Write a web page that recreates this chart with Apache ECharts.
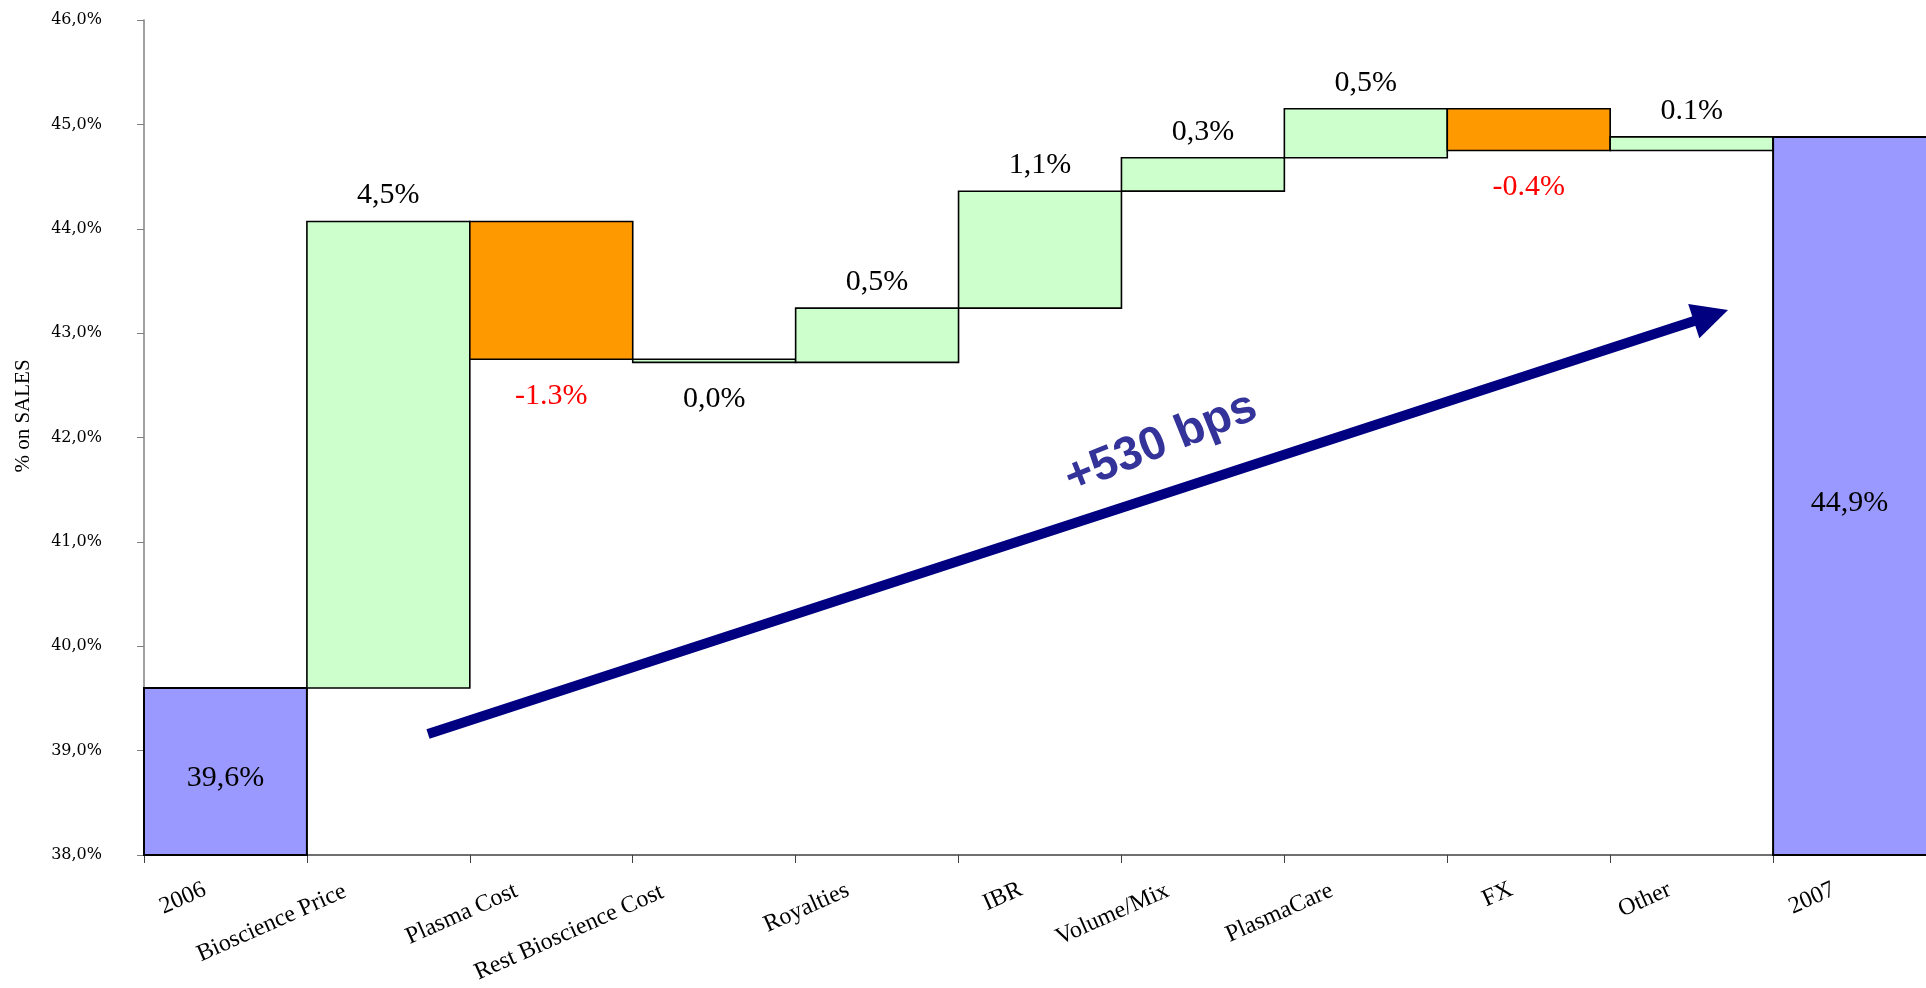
<!DOCTYPE html>
<html>
<head>
<meta charset="utf-8">
<script src="https://cdn.jsdelivr.net/npm/echarts@6/dist/echarts.min.js"></script>
<style>
html,body{margin:0;padding:0;background:#ffffff;}
#chart{width:1926px;height:988px;}
</style>
</head>
<body>
<div id="chart"></div>
<script>
// ---- data ----
const categories = ['2006','Bioscience Price','Plasma Cost','Rest Bioscience Cost','Royalties','IBR','Volume/Mix','PlasmaCare','FX','Other','2007'];
const startValue = 39.6;   // 2006 margin
const deltas = [4.47, -1.32, -0.03, 0.52, 1.12, 0.32, 0.47, -0.40, 0.13]; // bridge steps
const endValue = 44.88;    // 2007 margin
const kinds = ['total','up','down','up','up','up','up','up','down','up','total'];
const valueLabels = ['39,6%','4,5%','-1.3%','0,0%','0,5%','1,1%','0,3%','0,5%','-0.4%','0.1%','44,9%'];
const yMin = 38, yMax = 46, yStep = 1;

// ---- build waterfall rows: [index, low, high, direction] ----
const rows = [];
rows.push([0, yMin, startValue, 1]);
let level = startValue;
deltas.forEach(function (d, k) {
  const next = level + d;
  rows.push([k + 1, Math.min(level, next), Math.max(level, next), d >= 0 ? 1 : -1]);
  level = next;
});
rows.push([categories.length - 1, yMin, endValue, 1]);

const fills = { total: '#9999FF', up: '#CCFFCC', down: '#FF9900' };

function renderItem(params, api) {
  const i = api.value(0);
  const lo = api.value(1), hi = api.value(2), dir = api.value(3);
  const pTop = api.coord([i, hi]);
  const pBot = api.coord([i, lo]);
  const w = api.size([1, 0])[0];
  const x0 = pTop[0] - w / 2, x1 = pTop[0] + w / 2;
  const kind = kinds[i];
  const children = [{
    type: 'rect',
    shape: { x: x0, y: pTop[1], width: w, height: Math.max(pBot[1] - pTop[1], 0.5) },
    style: { fill: fills[kind], stroke: '#000000', lineWidth: kind === 'total' ? 2 : 1.6 }
  }];
  let tx, ty;
  if (kind === 'total') {
    tx = (x0 + Math.min(x1, api.getWidth())) / 2;
    ty = (pTop[1] + pBot[1]) / 2 + 7;
  } else if (dir > 0) {
    tx = pTop[0]; ty = pTop[1] - 26;
  } else {
    tx = pTop[0]; ty = pBot[1] + 37;
  }
  children.push({
    type: 'text',
    style: {
      text: valueLabels[i], x: tx, y: ty, align: 'center', verticalAlign: 'middle',
      fill: kind === 'down' ? '#FF0000' : '#000000',
      font: '30px "Liberation Serif", "Times New Roman", serif'
    }
  });
  return { type: 'group', children: children };
}

// category label styles: rotated labels sit a bit left of the category centre,
// longer labels further (as in the original spreadsheet rendering)
const labelRotate = 24;
const labelFont = '24px "Liberation Serif"';
const measureCtx = document.createElement('canvas').getContext('2d');
measureCtx.font = labelFont;
const tanR = Math.tan(labelRotate * Math.PI / 180);
const richLabels = {};
categories.forEach(function (c, i) {
  const extra = 0.19 * measureCtx.measureText(c).width;
  richLabels['c' + i] = {
    fontFamily: 'Liberation Serif', fontSize: 24, color: '#000000',
    padding: [0, 12 + extra, 1.6 * extra * tanR, 0]
  };
});

const chart = echarts.init(document.getElementById('chart'), null, { renderer: 'canvas' });

// arrow annotation (pixel geometry)
const arrowTail = [428, 734], arrowTip = [1728, 310];
const ang = Math.atan2(arrowTip[1] - arrowTail[1], arrowTip[0] - arrowTail[0]);
const headLen = 36, headHalf = 18;
const ux = Math.cos(ang), uy = Math.sin(ang);
const baseX = arrowTip[0] - ux * headLen, baseY = arrowTip[1] - uy * headLen;

chart.setOption({
  animation: false,
  backgroundColor: '#ffffff',
  grid: { left: 144, right: -10, top: 20, bottom: 133, containLabel: false, outerBoundsMode: 'none' },
  xAxis: {
    type: 'category',
    data: categories,
    boundaryGap: true,
    axisLine: { show: true, lineStyle: { color: '#404040', width: 1.5 } },
    axisTick: { show: true, length: 8, lineStyle: { color: '#404040', width: 1 } },
    axisLabel: {
      interval: 0, rotate: labelRotate, margin: 28,
      fontFamily: 'Liberation Serif', fontSize: 24, color: '#000000',
      formatter: function (v, idx) { return '{c' + idx + '|' + v + '}'; },
      rich: richLabels
    },
    splitLine: { show: false }
  },
  yAxis: {
    type: 'value',
    min: yMin, max: yMax, interval: yStep,
    axisLine: { show: true, lineStyle: { color: '#808080', width: 1.5 } },
    axisTick: { show: true, length: 7, lineStyle: { color: '#808080' } },
    axisLabel: {
      margin: 42,
      formatter: function (v) { return v.toFixed(1).replace('.', ',') + '%'; },
      fontFamily: 'DejaVu Serif', fontSize: 16, color: '#000000'
    },
    splitLine: { show: false }
  },
  series: [{
    type: 'custom',
    renderItem: renderItem,
    encode: { x: 0, y: [1, 2] },
    data: rows,
    clip: false
  }],
  graphic: [
    {
      type: 'text', x: 23, y: 416, rotation: Math.PI / 2,
      style: { text: '% on SALES', align: 'center', verticalAlign: 'middle',
        font: '21px "Liberation Serif", serif', fill: '#000000' }
    },
    {
      type: 'line',
      shape: { x1: arrowTail[0], y1: arrowTail[1], x2: baseX + ux * 2, y2: baseY + uy * 2 },
      style: { stroke: '#000080', lineWidth: 10, lineCap: 'butt' }
    },
    {
      type: 'polygon',
      shape: { points: [
        [arrowTip[0], arrowTip[1]],
        [baseX - uy * headHalf, baseY + ux * headHalf],
        [baseX + uy * headHalf, baseY - ux * headHalf]
      ] },
      style: { fill: '#000080' }
    },
    {
      type: 'text', x: 1161, y: 443, rotation: 22 * Math.PI / 180,
      style: { text: '+530 bps', align: 'center', verticalAlign: 'middle',
        font: 'bold 47px "Liberation Sans", Arial, sans-serif', fill: '#333399' }
    }
  ]
});
</script>
</body>
</html>
